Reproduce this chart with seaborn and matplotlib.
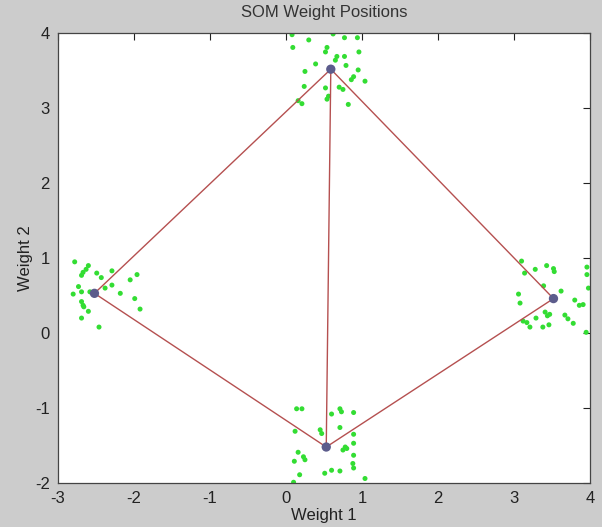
import numpy as np
import pandas as pd
import seaborn as sns
import matplotlib.pyplot as plt

# input samples (four clusters)
x_top = [0.08, 0.62, 0.30, 0.77, 0.94, 0.09, 0.54, 0.52, 0.96, 0.67, 0.77, 0.65, 0.39, 0.79,
         0.25, 0.95, 0.89, 0.86, 1.04, 0.24, 0.52, 0.70, 0.75, 0.56, 0.54, 0.16, 0.21, 0.82]
y_top = [3.98, 3.99, 3.91, 3.94, 3.94, 3.81, 3.81, 3.75, 3.75, 3.69, 3.69, 3.64, 3.59, 3.57,
         3.49, 3.51, 3.42, 3.38, 3.36, 3.29, 3.27, 3.28, 3.25, 3.16, 3.12, 3.10, 3.06, 3.05]
x_left = [-2.78, -2.60, -2.63, -2.67, -2.69, -2.49, -2.29, -2.43, -1.96, -2.05, -2.73, -2.29, -2.69,
          -2.58, -2.80, -2.18, -2.38, -2.69, -2.67, -2.66, -1.99, -2.60, -1.92, -2.69, -2.46]
y_left = [0.95, 0.90, 0.85, 0.81, 0.77, 0.80, 0.83, 0.74, 0.78, 0.71, 0.62, 0.64, 0.55,
          0.55, 0.52, 0.53, 0.60, 0.42, 0.37, 0.35, 0.46, 0.29, 0.32, 0.20, 0.08]
x_right = [3.10, 3.28, 3.43, 3.52, 3.53, 3.14, 3.96, 3.96, 3.39, 3.62, 3.98, 3.06, 3.08, 3.80, 3.86,
           3.91, 3.41, 3.47, 3.44, 3.67, 3.71, 3.29, 3.12, 3.17, 3.21, 3.38, 3.46, 3.78, 3.95]
y_right = [0.96, 0.85, 0.90, 0.86, 0.82, 0.80, 0.88, 0.78, 0.63, 0.56, 0.60, 0.52, 0.40, 0.44, 0.37,
           0.38, 0.28, 0.25, 0.23, 0.24, 0.19, 0.20, 0.16, 0.14, 0.08, 0.08, 0.11, 0.13, 0.01]
x_bottom = [0.14, 0.21, 0.71, 0.73, 0.89, 0.60, 0.71, 0.12, 0.45, 0.47, 0.89, 0.78, 0.75, 0.80,
            0.89, 0.16, 0.23, 0.25, 0.89, 0.11, 0.88, 0.89, 0.60, 0.71, 0.51, 0.18, 1.04, 0.10]
y_bottom = [-1.01, -1.01, -1.01, -1.05, -1.06, -1.08, -1.26, -1.31, -1.29, -1.34, -1.35, -1.52, -1.56, -1.54,
            -1.47, -1.59, -1.65, -1.69, -1.63, -1.71, -1.74, -1.80, -1.83, -1.84, -1.87, -1.89, -1.94, -1.99]

# SOM neuron weights: top, left, right, bottom
neuron_w1 = [0.59, -2.52, 3.52, 0.53]
neuron_w2 = [3.52, 0.53, 0.46, -1.52]
edges = [(1, 0), (0, 2), (2, 3), (3, 1), (0, 3)]

samples = pd.DataFrame({
    "w1": x_top + x_left + x_right + x_bottom,
    "w2": y_top + y_left + y_right + y_bottom,
})
neurons = pd.DataFrame({"w1": neuron_w1, "w2": neuron_w2})

sns.set_style("white")
plt.rcParams["font.family"] = ["Liberation Sans", "DejaVu Sans"]
plt.rcParams["axes.unicode_minus"] = False

fig = plt.figure(figsize=(6.02, 5.27), dpi=100, facecolor="#cccccc")
ax = fig.add_axes([0.0963, 0.0835, 0.8837, 0.8535])
ax.set_facecolor("white")

sns.scatterplot(data=samples, x="w1", y="w2", ax=ax, color="#33dd33",
                marker="o", s=13, edgecolor="none")
for a, b in edges:
    ax.plot([neuron_w1[a], neuron_w1[b]], [neuron_w2[a], neuron_w2[b]],
            color="#b55050", lw=1.0, zorder=3)
sns.scatterplot(data=neurons, x="w1", y="w2", ax=ax, color="#5c5c8c",
                s=45, edgecolor="none", zorder=4)

ax.set_xlim(-3, 4)
ax.set_ylim(-2, 4)
ax.set_xticks(range(-3, 5))
ax.set_yticks(range(-2, 5))
ax.tick_params(direction="in", length=5, width=0.8, top=True, right=True,
               labelsize=12, colors="#222222", pad=6)
for s in ax.spines.values():
    s.set_color("#444444")
    s.set_linewidth(0.9)
ax.set_xlabel("Weight 1", fontsize=12, labelpad=1, color="#222222")
ax.set_ylabel("Weight 2", fontsize=12, labelpad=1, color="#222222")
ax.set_title("SOM Weight Positions", fontsize=12, pad=12, color="#333333")

plt.savefig("out.png", dpi=100, facecolor=fig.get_facecolor())
plt.close()
